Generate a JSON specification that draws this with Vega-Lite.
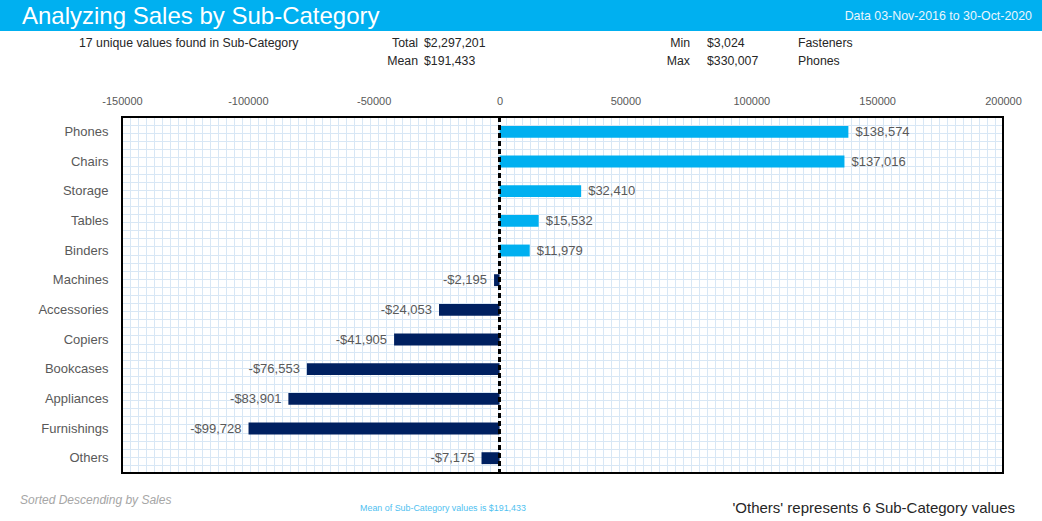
{
  "$schema": "https://vega.github.io/schema/vega-lite/v6.json",
  "padding": 0,
  "background": "white",
  "spacing": 0,
  "config": {"view": {"stroke": null}, "font": "Liberation Sans", "title": {"fontWeight": "normal"}},
  "vconcat": [
    {
      "spacing": 0,
      "bounds": "flush",
      "hconcat": [
        {
          "width": 521, "height": 31,
          "view": {"fill": "#00b0f0", "stroke": null},
          "data": {"values": [{}]},
          "mark": {"type": "text", "text": ""},
          "title": {"text": "Analyzing Sales by Sub-Category", "anchor": "start", "align": "left", "frame": "group", "orient": "top", "offset": 0, "baseline": "bottom", "dx": 22, "dy": 52.5, "font": "Liberation Sans", "fontSize": 24, "fontWeight": "normal", "color": "#ffffff"}
        },
        {
          "width": 521, "height": 31,
          "view": {"fill": "#00b0f0", "stroke": null},
          "data": {"values": [{}]},
          "mark": {"type": "text", "text": ""},
          "title": {"text": "Data 03-Nov-2016 to 30-Oct-2020", "anchor": "end", "align": "right", "frame": "group", "orient": "top", "offset": 0, "baseline": "bottom", "dx": -10, "dy": 35, "font": "Liberation Sans", "fontSize": 12.4, "fontWeight": "normal", "color": "#eaf6fd"}
        }
      ]
    },
    {
      "spacing": 0,
      "bounds": "flush",
      "hconcat": [
        {
          "width": 310, "height": 56,
          "view": {"fill": "transparent", "stroke": null},
          "data": {"values": [{}]},
          "mark": {"type": "text", "text": ""},
          "title": {"text": "17 unique values found in Sub-Category", "anchor": "start", "align": "left", "frame": "group", "orient": "top", "offset": 0, "baseline": "bottom", "dx": 79, "dy": 31, "font": "Liberation Sans", "fontSize": 12.3, "fontWeight": "normal", "color": "#262626"}
        },
        {
          "width": 108, "height": 56,
          "view": {"fill": "transparent", "stroke": null},
          "data": {"values": [{}]},
          "mark": {"type": "text", "text": ""},
          "title": {"text": ["Total", "Mean"], "anchor": "end", "align": "right", "frame": "group", "orient": "top", "offset": 0, "baseline": "bottom", "dy": 49.6, "lineHeight": 18.5, "font": "Liberation Sans", "fontSize": 12.3, "fontWeight": "normal", "color": "#262626"}
        },
        {
          "width": 200, "height": 56,
          "view": {"fill": "transparent", "stroke": null},
          "data": {"values": [{}]},
          "mark": {"type": "text", "text": ""},
          "title": {"text": ["$2,297,201", "$191,433"], "anchor": "start", "align": "left", "frame": "group", "orient": "top", "offset": 0, "baseline": "bottom", "dx": 6, "dy": 49.6, "lineHeight": 18.5, "font": "Liberation Sans", "fontSize": 12.3, "fontWeight": "normal", "color": "#262626"}
        },
        {
          "width": 72, "height": 56,
          "view": {"fill": "transparent", "stroke": null},
          "data": {"values": [{}]},
          "mark": {"type": "text", "text": ""},
          "title": {"text": ["Min", "Max"], "anchor": "end", "align": "right", "frame": "group", "orient": "top", "offset": 0, "baseline": "bottom", "dy": 49.6, "lineHeight": 18.5, "font": "Liberation Sans", "fontSize": 12.3, "fontWeight": "normal", "color": "#262626"}
        },
        {
          "width": 90, "height": 56,
          "view": {"fill": "transparent", "stroke": null},
          "data": {"values": [{}]},
          "mark": {"type": "text", "text": ""},
          "title": {"text": ["$3,024", "$330,007"], "anchor": "start", "align": "left", "frame": "group", "orient": "top", "offset": 0, "baseline": "bottom", "dx": 17, "dy": 49.6, "lineHeight": 18.5, "font": "Liberation Sans", "fontSize": 12.3, "fontWeight": "normal", "color": "#262626"}
        },
        {
          "width": 262, "height": 56,
          "view": {"fill": "transparent", "stroke": null},
          "data": {"values": [{}]},
          "mark": {"type": "text", "text": ""},
          "title": {"text": ["Fasteners", "Phones"], "anchor": "start", "align": "left", "frame": "group", "orient": "top", "offset": 0, "baseline": "bottom", "dx": 18, "dy": 49.6, "lineHeight": 18.5, "font": "Liberation Sans", "fontSize": 12.3, "fontWeight": "normal", "color": "#262626"}
        }
      ]
    },
    {
      "spacing": 0,
      "bounds": "flush",
      "hconcat": [
        {
          "width": 122, "height": 356,
          "view": {"fill": "transparent", "stroke": null},
          "data": {"values": [{}]},
          "mark": {"type": "text", "text": ""}
        },
        {
          "width": 881,
          "height": 356,
          "data": {
            "values": [
              {"category": "Phones", "sales": 138574},
              {"category": "Chairs", "sales": 137016},
              {"category": "Storage", "sales": 32410},
              {"category": "Tables", "sales": 15532},
              {"category": "Binders", "sales": 11979},
              {"category": "Machines", "sales": -2195},
              {"category": "Accessories", "sales": -24053},
              {"category": "Copiers", "sales": -41905},
              {"category": "Bookcases", "sales": -76553},
              {"category": "Appliances", "sales": -83901},
              {"category": "Furnishings", "sales": -99728},
              {"category": "Others", "sales": -7175}
            ]
          },
          "layer": [
            {
              "mark": {"type": "rect", "filled": false, "color": "#000000", "strokeWidth": 2},
              "encoding": {
                "x": {"datum": 0, "type": "quantitative", "scale": {"domain": [0, 110], "nice": false, "zero": false},
                      "axis": {"orient": "bottom", "grid": true, "gridColor": "#d8e7f5", "gridWidth": 1, "tickCount": 110, "labels": false, "ticks": false, "domain": false, "title": null, "minExtent": 0, "maxExtent": 0}},
                "x2": {"datum": 110},
                "y": {"datum": 0, "type": "quantitative", "scale": {"domain": [0, 44], "nice": false, "zero": false},
                      "axis": {"orient": "right", "grid": true, "gridColor": "#d8e7f5", "gridWidth": 1, "tickCount": 44, "labels": false, "ticks": false, "domain": false, "title": null, "minExtent": 0, "maxExtent": 0}},
                "y2": {"datum": 44}
              }
            },
            {
              "transform": [
                {"calculate": "(datum.sales < 0 ? '-$' : '$') + format(abs(datum.sales), ',')", "as": "label"}
              ],
              "encoding": {
                "y": {"field": "category", "type": "nominal",
                      "scale": {"domain": ["Phones", "Chairs", "Storage", "Tables", "Binders", "Machines", "Accessories", "Copiers", "Bookcases", "Appliances", "Furnishings", "Others"], "paddingInner": 0, "paddingOuter": 0},
                      "axis": {"orient": "left", "ticks": false, "domain": false, "grid": false, "labelPadding": 14, "labelFont": "Liberation Sans", "labelFontSize": 13, "labelColor": "#595959", "title": null}},
                "x": {"field": "sales", "type": "quantitative",
                      "scale": {"domain": [-150000, 200000], "nice": false},
                      "axis": {"orient": "top", "values": [-150000, -100000, -50000, 0, 50000, 100000, 150000, 200000], "labelExpr": "(datum.value < 0 ? '-' : '') + abs(datum.value)", "grid": false, "ticks": false, "tickSize": 0, "domain": false, "labelPadding": 11, "labelFont": "Liberation Sans", "labelFontSize": 11, "labelColor": "#595959", "title": null, "labelFlush": false, "labelOverlap": false, "minExtent": 30, "maxExtent": 30}}
              },
              "layer": [
                {
                  "mark": {"type": "bar", "height": {"band": 0.4}},
                  "encoding": {
                    "color": {"condition": {"test": "datum.sales >= 0", "value": "#00b0f0"}, "value": "#002060"}
                  }
                },
                {
                  "mark": {"type": "text", "align": {"expr": "datum.sales >= 0 ? 'left' : 'right'"}, "dx": {"expr": "datum.sales >= 0 ? 7 : -7"}, "baseline": "middle", "font": "Liberation Sans", "fontSize": 13, "color": "#595959"},
                  "encoding": {"text": {"field": "label"}}
                },
                {
                  "mark": {"type": "rule", "strokeDash": [5, 3], "strokeWidth": 2, "color": "#000000"},
                  "encoding": {"x": {"datum": 0, "type": "quantitative"}, "y": null}
                }
              ]
            }
          ],
          "resolve": {"scale": {"x": "independent", "y": "independent"}, "axis": {"x": "independent", "y": "independent"}}
        }
      ]
    },
    {
      "spacing": 0,
      "bounds": "flush",
      "hconcat": [
        {
          "width": 330, "height": 48,
          "view": {"fill": "transparent", "stroke": null},
          "data": {"values": [{}]},
          "mark": {"type": "text", "text": ""},
          "title": {"text": "Sorted Descending by Sales", "anchor": "start", "align": "left", "frame": "group", "orient": "top", "offset": 0, "baseline": "bottom", "dx": 20, "dy": 44.5, "font": "Liberation Sans", "fontSize": 12, "fontStyle": "italic", "fontWeight": "normal", "color": "#a6a6a6"}
        },
        {
          "width": 226, "height": 48,
          "view": {"fill": "transparent", "stroke": null},
          "data": {"values": [{}]},
          "mark": {"type": "text", "text": ""},
          "title": {"text": "Mean of Sub-Category values is $191,433", "anchor": "middle", "frame": "group", "orient": "top", "offset": 0, "baseline": "bottom", "dy": 47.5, "font": "Liberation Sans", "fontSize": 8.9, "fontWeight": "normal", "color": "#4fc1f0"}
        },
        {
          "width": 486, "height": 48,
          "view": {"fill": "transparent", "stroke": null},
          "data": {"values": [{}]},
          "mark": {"type": "text", "text": ""},
          "title": {"text": "'Others' represents 6 Sub-Category values", "anchor": "end", "align": "right", "frame": "group", "orient": "top", "offset": 0, "baseline": "bottom", "dx": -27, "dy": 56.9, "font": "Liberation Sans", "fontSize": 15, "fontWeight": "normal", "color": "#262626"}
        }
      ]
    }
  ]
}
